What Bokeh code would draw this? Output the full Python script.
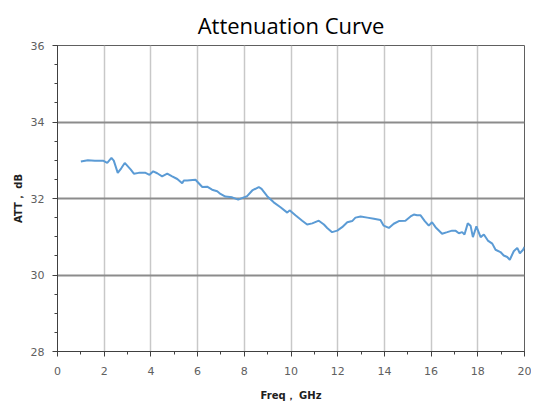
from bokeh.plotting import figure
from bokeh.models import FixedTicker, Title
from bokeh.embed import file_html
from bokeh.resources import INLINE

freq = [1.0, 1.3, 1.6, 1.95, 2.13, 2.31, 2.41, 2.58, 2.73, 2.88, 3.13, 3.27, 3.48,
        3.77, 3.94, 4.1, 4.27, 4.48, 4.7, 4.91, 5.13, 5.34, 5.41, 5.55, 5.91, 6.05,
        6.2, 6.41, 6.62, 6.84, 6.98, 7.19, 7.48, 7.74, 7.98, 8.12, 8.34, 8.62, 8.74,
        8.98, 9.26, 9.55, 9.84, 9.94, 10.19, 10.48, 10.69, 10.91, 11.19, 11.41, 11.55,
        11.76, 11.98, 12.19, 12.41, 12.62, 12.76, 12.98, 13.27, 13.55, 13.83, 13.97,
        14.19, 14.4, 14.62, 14.9, 15.12, 15.26, 15.4, 15.55, 15.73, 15.9, 16.04, 16.19,
        16.47, 16.69, 16.9, 17.04, 17.19, 17.33, 17.43, 17.57, 17.69, 17.79, 17.94,
        18.12, 18.26, 18.43, 18.62, 18.76, 18.97, 19.11, 19.26, 19.37, 19.54, 19.69,
        19.8, 19.94, 20.0]
att = [32.97, 33.0, 32.99, 32.99, 32.93, 33.06, 32.99, 32.67, 32.79, 32.93, 32.76,
       32.65, 32.67, 32.67, 32.62, 32.71, 32.66, 32.58, 32.65, 32.58, 32.51, 32.4,
       32.47, 32.47, 32.49, 32.4, 32.3, 32.31, 32.23, 32.19, 32.12, 32.05, 32.03,
       31.97, 32.03, 32.06, 32.21, 32.3, 32.25, 32.06, 31.9, 31.77, 31.63, 31.69,
       31.56, 31.42, 31.32, 31.35, 31.42, 31.32, 31.23, 31.12, 31.16, 31.25, 31.38,
       31.41, 31.5, 31.53, 31.5, 31.47, 31.44, 31.29, 31.23, 31.34, 31.41, 31.42,
       31.53, 31.58, 31.56, 31.56, 31.41, 31.29, 31.38, 31.25, 31.08, 31.12, 31.16,
       31.16, 31.09, 31.12, 31.06, 31.35, 31.29, 30.99, 31.27, 30.99, 31.06, 30.9,
       30.82, 30.66, 30.6, 30.51, 30.47, 30.4, 30.62, 30.71, 30.57, 30.66, 30.73]

x_ticks = [0, 2, 4, 6, 8, 10, 12, 14, 16, 18, 20]
y_ticks = [28, 30, 32, 34, 36]

p = figure(width=531, height=404, x_range=(0, 20), y_range=(28, 36),
           output_backend="svg", toolbar_location=None,
           min_border_left=57, min_border_right=7, min_border_top=45, min_border_bottom=53)

p.title = Title(text="Attenuation Curve", align="center", text_font="Open Sans",
                text_font_size="22px", text_font_style="normal", text_color="#000000",
                offset=0, standoff=12)

p.line(freq, att, line_color="#5b9bd5", line_width=2)

p.xaxis.ticker = FixedTicker(ticks=x_ticks, minor_ticks=list(range(0, 21)))
p.yaxis.ticker = FixedTicker(ticks=y_ticks, minor_ticks=[28 + 0.5 * i for i in range(17)])

for ax in (p.xaxis[0], p.yaxis[0]):
    ax.axis_line_color = "#404040"
    ax.axis_line_width = 1
    ax.major_tick_line_color = "#404040"
    ax.minor_tick_line_color = "#404040"
    ax.major_tick_out = 5
    ax.major_tick_in = 0
    ax.minor_tick_out = 3
    ax.minor_tick_in = 0
    ax.major_label_text_font = "DejaVu Sans"
    ax.major_label_text_font_size = "11px"
    ax.major_label_text_color = "#606060"
    ax.axis_label_text_font = "DejaVu Sans"
    ax.axis_label_text_font_size = "10px"
    ax.axis_label_text_font_style = "bold"
    ax.axis_label_text_color = "#202020"

p.xaxis.major_label_standoff = 10
p.yaxis.major_label_standoff = 8
p.xaxis.axis_label = "Freq\uff0c GHz"
p.yaxis.axis_label = "ATT\uff0c dB"
p.xaxis.axis_label_standoff = 12
p.yaxis.axis_label_standoff = 4

p.xgrid.grid_line_color = "#c8c8c8"
p.xgrid.grid_line_width = 1.5
p.ygrid.grid_line_color = "#8c8c8c"
p.ygrid.grid_line_width = 2

p.outline_line_color = "#606060"
p.outline_line_width = 1

open("out.html", "w").write(file_html(p, INLINE))
